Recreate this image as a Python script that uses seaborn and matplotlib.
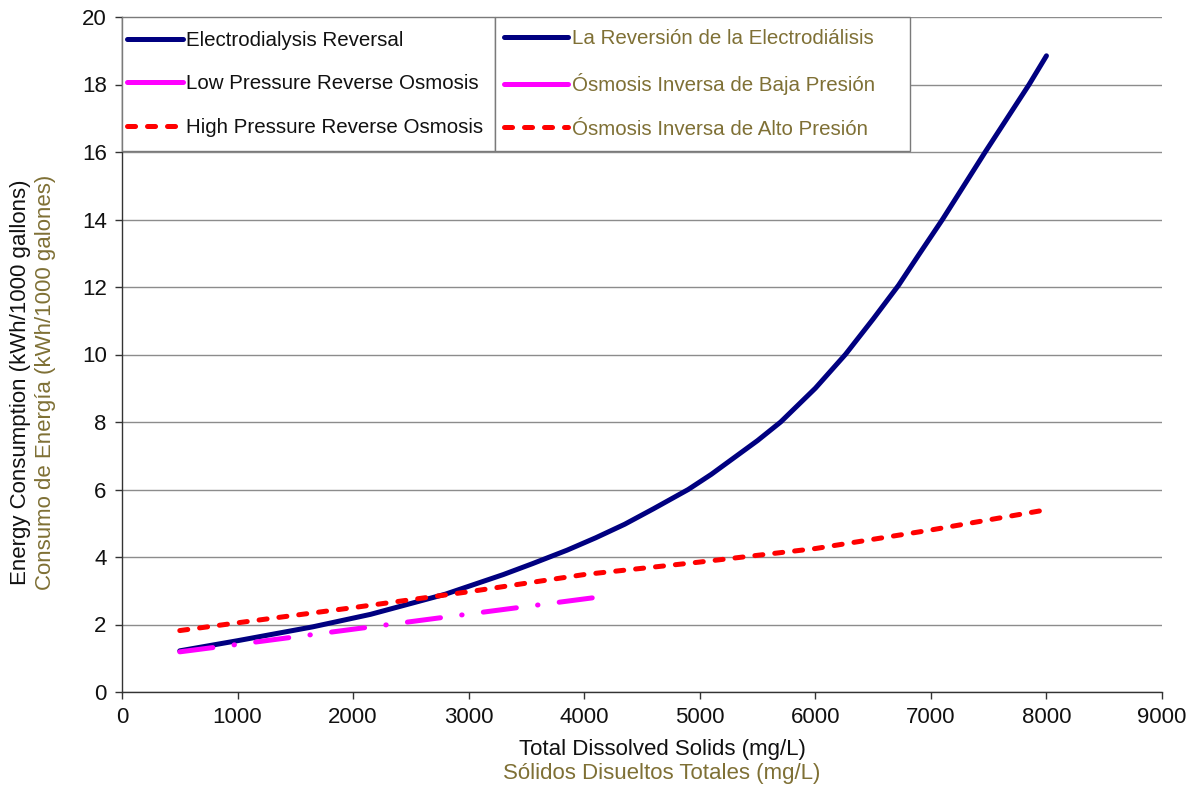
import matplotlib
matplotlib.use("Agg")
import matplotlib.pyplot as plt
import seaborn as sns
from matplotlib.lines import Line2D
from matplotlib.patches import Rectangle

# ── Data ──────────────────────────────────────────────────────────────
edr_tds = [500, 1000, 1650, 2150, 2800, 3300, 3550, 3850, 4100, 4350, 4600,
           4900, 5100, 5300, 5500, 5700, 6000, 6260, 6500, 6720, 6900, 7100,
           7470, 7850, 8000]
edr_kwh = [1.22, 1.52, 1.93, 2.3, 2.9, 3.48, 3.8, 4.2, 4.57, 4.97, 5.43,
           6.0, 6.45, 6.95, 7.45, 8.0, 9.0, 10.0, 11.05, 12.05, 12.98, 14.0,
           16.0, 18.0, 18.85]

lpro_tds = [500, 1000, 2000, 3000, 4140]
lpro_kwh = [1.19, 1.41, 1.86, 2.31, 2.82]

hpro_tds = [500, 1000, 2000, 3000, 4000, 5000, 6000, 7000, 8000]
hpro_kwh = [1.82, 2.05, 2.5, 2.97, 3.48, 3.85, 4.25, 4.8, 5.4]

labels_en = ["Electrodialysis Reversal", "Low Pressure Reverse Osmosis",
             "High Pressure Reverse Osmosis"]
labels_es = ["La Reversión de la Electrodiálisis", "Ósmosis Inversa de Baja Presión",
             "Ósmosis Inversa de Alto Presión"]

x_ticks = list(range(0, 9001, 1000))
y_ticks = list(range(0, 21, 2))

# ── Style ─────────────────────────────────────────────────────────────
sns.set_style("white")
plt.rcParams["font.family"] = ["Liberation Sans", "DejaVu Sans"]
plt.rcParams["lines.scale_dashes"] = False

NAVY = "#000080"
MAGENTA = "#ff00ff"
RED = "#ff0000"
OLIVE = "#7f7035"
GRID = "#8c8c8c"
INK = "#111111"

LW = 3.6
edr_style = dict(color=NAVY, lw=LW, linestyle="-", solid_capstyle="round",
                 solid_joinstyle="round")
lpro_style = dict(color=MAGENTA, lw=LW, linestyle=(0, (24, 15.4, 0.3, 15.4)),
                  dash_capstyle="round")
hpro_style = dict(color=RED, lw=LW, linestyle=(0, (5.8, 8.6)), dash_capstyle="round")

fig = plt.figure(figsize=(11.91, 7.93), dpi=100)
ax = fig.add_axes([122 / 1191, 101 / 793, 1040 / 1191, 675 / 793])

sns.lineplot(x=edr_tds, y=edr_kwh, ax=ax, legend=False, zorder=3, **edr_style)
sns.lineplot(x=lpro_tds, y=lpro_kwh, ax=ax, legend=False, zorder=3, **lpro_style)
sns.lineplot(x=hpro_tds, y=hpro_kwh, ax=ax, legend=False, zorder=3, **hpro_style)

ax.set_xlim(0, 9000)
ax.set_ylim(0, 20)
ax.set_xticks(x_ticks)
ax.set_yticks(y_ticks)
ax.tick_params(axis="both", direction="out", length=5, width=1, color="#333333",
               labelsize=16, labelcolor=INK, left=True, bottom=True, pad=6)
ax.yaxis.grid(True, color=GRID, lw=1)
ax.set_axisbelow(True)
for side in ["top", "right"]:
    ax.spines[side].set_visible(False)
for side in ["left", "bottom"]:
    ax.spines[side].set_color("#333333")
    ax.spines[side].set_linewidth(1)

ax.set_xlabel("")
ax.set_ylabel("")

# axis titles, English in black, Spanish in olive
fig.text(662 / 1191, 1 - 750 / 793, "Total Dissolved Solids (mg/L)",
         ha="center", va="center", fontsize=16, color=INK)
fig.text(662 / 1191, 1 - 774 / 793, "Sólidos Disueltos Totales (mg/L)",
         ha="center", va="center", fontsize=16, color=OLIVE)
fig.text(21 / 1191, 1 - 382 / 793, "Energy Consumption (kWh/1000 gallons)",
         ha="center", va="center", rotation=90, fontsize=16, color=INK)
fig.text(46 / 1191, 1 - 382 / 793, "Consumo de Energía (kWh/1000 galones)",
         ha="center", va="center", rotation=90, fontsize=16, color=OLIVE)

# ── Legend boxes ──────────────────────────────────────────────────────
box_h = 134 / 675
w_left = (495 - 122) / 1040
w_right = (910 - 495) / 1040
for x0, w in [(0, w_left), (w_left, w_right)]:
    ax.add_patch(Rectangle((x0, 1 - box_h), w, box_h, transform=ax.transAxes,
                           facecolor="white", edgecolor="#7a7a7a", lw=1, zorder=4,
                           clip_on=False))

# legend sample for the low-pressure line shows one long dash (solid bar)
lpro_handle = {**lpro_style, "linestyle": "-", "solid_capstyle": "round"}
handles = [Line2D([], [], **edr_style), Line2D([], [], **lpro_handle),
           Line2D([], [], **hpro_style)]

leg_kw = dict(loc="center left", frameon=False, fontsize=14.8, handlelength=2.7,
              handletextpad=0.15, labelspacing=1.2, borderpad=0, borderaxespad=0)
leg1 = ax.legend(handles, labels_en, bbox_to_anchor=(0.005, 1 - box_h / 2), **leg_kw)
for t in leg1.get_texts():
    t.set_color(INK)
ax.add_artist(leg1)
leg2 = ax.legend(handles, labels_es, bbox_to_anchor=(w_left + 0.009, 1 - box_h / 2),
                 **{**leg_kw, "handlelength": 3.1, "handletextpad": 0.2})
for t in leg2.get_texts():
    t.set_color(OLIVE)
leg1.set_zorder(6)
leg2.set_zorder(6)

fig.savefig("out.png", dpi=100)
